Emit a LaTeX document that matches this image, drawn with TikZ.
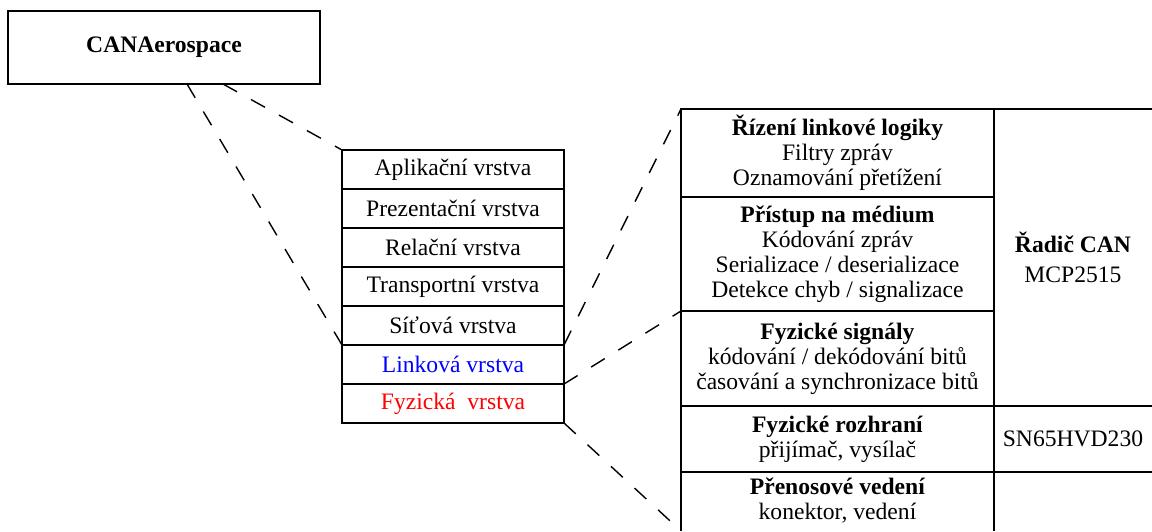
\documentclass[tikz,border=0pt]{standalone}
\usepackage{fontspec}
\setmainfont{Liberation Serif}
\begin{document}
\begin{tikzpicture}[x=0.5pt,y=-0.5pt,
  every node/.style={font=\fontsize{11.8}{12.5}\selectfont, inner sep=0pt, outer sep=0pt, align=center},
  grid/.style={line width=0.8pt},
  layer/.style={draw, line width=0.8pt, minimum width=111pt, minimum height=19.5pt},
  cell/.style={draw, line width=0.8pt, minimum width=156.5pt},
  conn/.style={line width=0.7pt, dash pattern=on 8pt off 8pt}]
\useasboundingbox (0,0) rectangle (1152,531);
\clip (0,0) rectangle (1152,531);
\coordinate (bot) at (0,531);
% CANAerospace
\node[draw, line width=0.8pt, minimum width=156pt, minimum height=36.5pt, font=\fontsize{11.8}{12.5}\selectfont\bfseries] (can) at (164,47.5) {CANAerospace};
% OSI stack
\node[layer] (app)   at (453,169.5) {Aplikační vrstva};
\node[layer] (pres)  at (453,208.5) {Prezentační vrstva};
\node[layer] (rel)   at (453,247.5) {Relační vrstva};
\node[layer] (trans) at (453,286.5) {Transportní vrstva};
\node[layer] (net)   at (453,325.5) {Síťová vrstva};
\node[layer, text=blue] (link) at (453,364.5) {Linková vrstva};
\node[layer, text=red]  (phys) at (453,403.5) {Fyzická\ \ vrstva};
% right table
\node[cell, minimum height=44pt] (r1) at (837.5,153) {\textbf{Řízení linkové logiky}\\Filtry zpráv\\Oznamování přetížení};
\node[cell, minimum height=57pt] (r2) at (837.5,254) {\textbf{Přístup na médium}\\Kódování zpráv\\Serializace / deserializace\\Detekce chyb / signalizace};
\node[cell, minimum height=47.5pt] (r3) at (837.5,358.5) {\textbf{Fyzické signály}\\kódování / dekódování bitů\\časování a synchronizace bitů};
\node[cell, minimum height=33pt] (r4) at (837.5,439) {\textbf{Fyzické rozhraní}\\přijímač, vysílač};
\node[minimum width=156.5pt, minimum height=28.5pt] (r5) at (837.5,500.5) {\textbf{Přenosové vedení}\\konektor, vedení};
\node[minimum width=79pt, minimum height=148.5pt] (c1) at (1073,257.5) {\textbf{Řadič CAN}\\[2.5pt]MCP2515};
\node[minimum width=79pt, minimum height=33pt] (c2) at (1073,439) {SN65HVD230};
% grid lines
\draw[grid] (r1.north west) -- (c1.north east);
\draw[grid] (r1.north west) -- (r1.north west |- bot);
\draw[grid] (r1.north east) -- (r1.north east |- bot);
\draw[grid] (r3.south west) -- (c1.south east);
\draw[grid] (r4.south west) -- (c2.south east);
% dashed connectors
\draw[conn] ([xshift=89.5pt]can.south west) -- (link.north west);
\draw[conn] ([xshift=107.5pt]can.south west) -- (app.north west);
\draw[conn] (link.north east) -- (r1.north west);
\draw[conn] (link.south east) -- (r3.north west);
\draw[conn] (phys.south east) -- (r1.north west |- bot);
\end{tikzpicture}
\end{document}
